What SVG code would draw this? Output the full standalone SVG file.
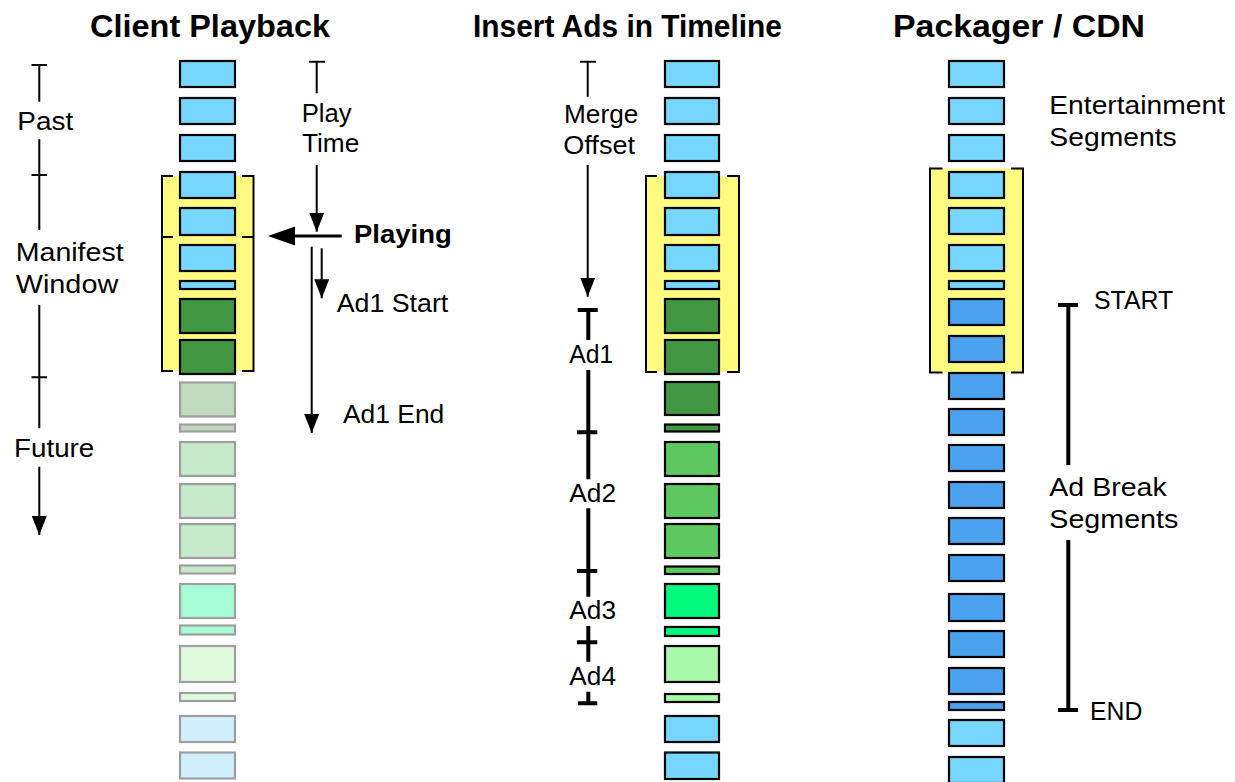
<svg xmlns="http://www.w3.org/2000/svg" width="1235" height="782" viewBox="0 0 1235 782">
  <style>
    .lbl { font-family: "Liberation Sans", Arial, sans-serif; font-size: 26px; fill: #000; }
    .ttl { font-family: "Liberation Sans", Arial, sans-serif; font-size: 32px; font-weight: bold; fill: #000; }
    .bold { font-weight: bold; }
    .seg { stroke: #000; stroke-width: 2.2; }
    .fut { stroke: #9e9e9e; stroke-width: 2.2; }
    .lb { fill: #76d6ff; }
    .dg { fill: #419741; }
    .mg { fill: #5cc95f; }
    .bg { fill: #00f97d; }
    .pg { fill: #a7f9a7; }
    .db { fill: #4aa2ef; }
    .fdg { fill: #bfdabe; }
    .fmg { fill: #c6eac9; }
    .fbg { fill: #a6fcd3; }
    .fpg { fill: #dffadf; }
    .flb { fill: #d0f0fd; }
    .win { fill: #fffb80; stroke: none; }
    .brk { fill: none; stroke: #000; stroke-width: 2; }
    .thin { fill: none; stroke: #000; stroke-width: 2; }
    .thick { fill: none; stroke: #000; stroke-width: 4; }
  </style>
  <defs>
    <marker id="ah" markerUnits="userSpaceOnUse" markerWidth="20" markerHeight="16" refX="19" refY="7.5" orient="auto">
      <path d="M0,0 L19,7.5 L0,15 z" fill="#000"/>
    </marker>
  </defs>

  <!-- Titles -->
  <g id="titles">
    <text class="ttl" x="90" y="36.7" textLength="240" lengthAdjust="spacingAndGlyphs">Client Playback</text>
    <text class="ttl" x="473" y="36.7" textLength="309" lengthAdjust="spacingAndGlyphs">Insert Ads in Timeline</text>
    <text class="ttl" x="893" y="36.7" textLength="252" lengthAdjust="spacingAndGlyphs">Packager / CDN</text>
  </g>

  <!-- Client Playback column -->
  <g id="client-column">
    <rect class="win" x="162" y="176" width="91.5" height="195"/>
    <path class="brk" d="M173,176 H162 V371 H173 M242,176 H253.5 V371 H242 M162,237 H173 M242,237 H253.5"/>
    <rect class="seg lb" x="180" y="61" width="55" height="26"/>
    <rect class="seg lb" x="180" y="98" width="55" height="26"/>
    <rect class="seg lb" x="180" y="135" width="55" height="26"/>
    <rect class="seg lb" x="180" y="172" width="55" height="26"/>
    <rect class="seg lb" x="180" y="208" width="55" height="27"/>
    <rect class="seg lb" x="180" y="245" width="55" height="26"/>
    <rect class="seg lb" x="180" y="281" width="55" height="8"/>
    <rect class="seg dg" x="180" y="299" width="55" height="34"/>
    <rect class="seg dg" x="180" y="340" width="55" height="34"/>
    <rect class="fut fdg" x="180" y="382.5" width="55" height="34"/>
    <rect class="fut fdg" x="180" y="424.5" width="55" height="7"/>
    <rect class="fut fmg" x="180" y="442" width="55" height="34"/>
    <rect class="fut fmg" x="180" y="484" width="55" height="34"/>
    <rect class="fut fmg" x="180" y="524" width="55" height="34"/>
    <rect class="fut fmg" x="180" y="565.5" width="55" height="8"/>
    <rect class="fut fbg" x="180" y="584" width="55" height="34"/>
    <rect class="fut fbg" x="180" y="625.5" width="55" height="9"/>
    <rect class="fut fpg" x="180" y="646" width="55" height="36"/>
    <rect class="fut fpg" x="180" y="693" width="55" height="8"/>
    <rect class="fut flb" x="180" y="716" width="55" height="26"/>
    <rect class="fut flb" x="180" y="752.5" width="55" height="26"/>
  </g>

  <!-- Insert Ads column -->
  <g id="timeline-column">
    <rect class="win" x="646" y="176" width="93" height="196"/>
    <path class="brk" d="M657,176 H646 V372 H657 M727,176 H739 V372 H727"/>
    <rect class="seg lb" x="665" y="61" width="54" height="26"/>
    <rect class="seg lb" x="665" y="98" width="54" height="26"/>
    <rect class="seg lb" x="665" y="135" width="54" height="26"/>
    <rect class="seg lb" x="665" y="172" width="54" height="26"/>
    <rect class="seg lb" x="665" y="208" width="54" height="27"/>
    <rect class="seg lb" x="665" y="245" width="54" height="26"/>
    <rect class="seg lb" x="665" y="281" width="54" height="8"/>
    <rect class="seg dg" x="665" y="299" width="54" height="34"/>
    <rect class="seg dg" x="665" y="340" width="54" height="34"/>
    <rect class="seg dg" x="665" y="382" width="54" height="33"/>
    <rect class="seg dg" x="665" y="424.5" width="54" height="7"/>
    <rect class="seg mg" x="665" y="442" width="54" height="34"/>
    <rect class="seg mg" x="665" y="484" width="54" height="34"/>
    <rect class="seg mg" x="665" y="524" width="54" height="34"/>
    <rect class="seg mg" x="665" y="566.5" width="54" height="7.5"/>
    <rect class="seg bg" x="665" y="584" width="54" height="34"/>
    <rect class="seg bg" x="665" y="627" width="54" height="9"/>
    <rect class="seg pg" x="665" y="646" width="54" height="36"/>
    <rect class="seg pg" x="665" y="694" width="54" height="8"/>
    <rect class="seg lb" x="665" y="716" width="54" height="26"/>
    <rect class="seg lb" x="665" y="752.5" width="54" height="26.5"/>
  </g>

  <!-- Packager / CDN column -->
  <g id="packager-column">
    <rect class="win" x="930" y="168.5" width="93" height="204"/>
    <path class="brk" d="M942.5,168.5 H930 V372.5 H942.5 M1011,168.5 H1023 V372.5 H1011"/>
    <rect class="seg lb" x="949" y="61" width="55" height="26"/>
    <rect class="seg lb" x="949" y="98" width="55" height="26"/>
    <rect class="seg lb" x="949" y="135" width="55" height="26"/>
    <rect class="seg lb" x="949" y="172" width="55" height="26"/>
    <rect class="seg lb" x="949" y="208" width="55" height="26"/>
    <rect class="seg lb" x="949" y="245" width="55" height="26"/>
    <rect class="seg lb" x="949" y="281" width="55" height="8"/>
    <rect class="seg db" x="949" y="299" width="55" height="26"/>
    <rect class="seg db" x="949" y="336" width="55" height="26"/>
    <rect class="seg db" x="949" y="373" width="55" height="26"/>
    <rect class="seg db" x="949" y="409" width="55" height="26"/>
    <rect class="seg db" x="949" y="445" width="55" height="26"/>
    <rect class="seg db" x="949" y="482" width="55" height="26"/>
    <rect class="seg db" x="949" y="518" width="55" height="26"/>
    <rect class="seg db" x="949" y="555" width="55" height="26"/>
    <rect class="seg db" x="949" y="594" width="55" height="27"/>
    <rect class="seg db" x="949" y="631" width="55" height="26"/>
    <rect class="seg db" x="949" y="668" width="55" height="26"/>
    <rect class="seg db" x="949" y="702" width="55" height="8"/>
    <rect class="seg lb" x="949" y="720" width="55" height="26"/>
    <rect class="seg lb" x="949" y="757" width="55" height="26"/>
  </g>

  <!-- Connectors / axes -->
  <g id="connectors">
    <!-- Past / Manifest / Future axis -->
    <path class="thin" d="M31.5,65 H47 M39.3,65 V101.7 M39.3,139.3 V230 M31.5,175 H47 M39.3,305 V428.3 M31.5,377.3 H47"/>
    <line class="thin" x1="39.3" y1="466.7" x2="39.3" y2="535" marker-end="url(#ah)"/>
    <!-- Play time -->
    <path class="thin" d="M309,61.7 H325 M316.7,61.7 V93.3"/>
    <line class="thin" x1="316.7" y1="165" x2="316.7" y2="231.7" marker-end="url(#ah)"/>
    <!-- Playing arrow -->
    <line x1="341.7" y1="236" x2="292" y2="236" stroke="#000" stroke-width="3"/>
    <path d="M268,236 L295,226.5 L295,245.5 z" fill="#000"/>
    <!-- Ad1 start / end -->
    <line class="thin" x1="321.7" y1="248.3" x2="321.7" y2="298.3" marker-end="url(#ah)"/>
    <line class="thin" x1="311.7" y1="246.7" x2="311.7" y2="433" marker-end="url(#ah)"/>
    <!-- Merge offset -->
    <path class="thin" d="M580,61.7 H596 M587.7,61.7 V96.7"/>
    <line class="thin" x1="587.7" y1="165" x2="587.7" y2="296.7" marker-end="url(#ah)"/>
    <!-- Ad bar -->
    <path class="thick" d="M577.7,310 H597.7 M588.3,310 V340 M588.3,370 V479.3 M577,432.3 H597.3 M588.3,508.3 V596.7 M577,571 H597.3 M588.3,626 V661.7 M577,642.3 H597.3 M588.3,691.7 V703.3 M578,703.3 H597.3"/>
    <!-- Ad break START / END -->
    <path class="thick" d="M1058,305 H1078 M1068.3,305 V465 M1068.3,540 V710 M1058,710 H1078"/>
  </g>

  <!-- Labels -->
  <g id="labels">
    <text class="lbl" x="17.3" y="130" textLength="56" lengthAdjust="spacingAndGlyphs">Past</text>
    <text class="lbl" x="15.7" y="260.7" textLength="108" lengthAdjust="spacingAndGlyphs">Manifest</text>
    <text class="lbl" x="15.7" y="293.3" textLength="102.6" lengthAdjust="spacingAndGlyphs">Window</text>
    <text class="lbl" x="14" y="457" textLength="80.3" lengthAdjust="spacingAndGlyphs">Future</text>
    <text class="lbl" x="301.7" y="121.7" textLength="50" lengthAdjust="spacingAndGlyphs">Play</text>
    <text class="lbl" x="302" y="151.7" textLength="57.3" lengthAdjust="spacingAndGlyphs">Time</text>
    <text class="lbl bold" x="354" y="243.3" textLength="97.7" lengthAdjust="spacingAndGlyphs">Playing</text>
    <text class="lbl" x="336.7" y="311.7" textLength="111.6" lengthAdjust="spacingAndGlyphs">Ad1 Start</text>
    <text class="lbl" x="343" y="423.3" textLength="101.3" lengthAdjust="spacingAndGlyphs">Ad1 End</text>
    <text class="lbl" x="564" y="123.3" textLength="74.3" lengthAdjust="spacingAndGlyphs">Merge</text>
    <text class="lbl" x="563.3" y="154.3" textLength="71.7" lengthAdjust="spacingAndGlyphs">Offset</text>
    <text class="lbl" x="569.3" y="363.3" textLength="44" lengthAdjust="spacingAndGlyphs">Ad1</text>
    <text class="lbl" x="569.3" y="501.7" textLength="46.7" lengthAdjust="spacingAndGlyphs">Ad2</text>
    <text class="lbl" x="569.3" y="619" textLength="46.7" lengthAdjust="spacingAndGlyphs">Ad3</text>
    <text class="lbl" x="569.3" y="685" textLength="46.7" lengthAdjust="spacingAndGlyphs">Ad4</text>
    <text class="lbl" x="1049.3" y="114" textLength="175.7" lengthAdjust="spacingAndGlyphs">Entertainment</text>
    <text class="lbl" x="1049.3" y="146" textLength="127.4" lengthAdjust="spacingAndGlyphs">Segments</text>
    <text class="lbl" x="1094" y="309.3" textLength="79.3" lengthAdjust="spacingAndGlyphs">START</text>
    <text class="lbl" x="1049.3" y="495.7" textLength="117.4" lengthAdjust="spacingAndGlyphs">Ad Break</text>
    <text class="lbl" x="1049.3" y="528.3" textLength="129" lengthAdjust="spacingAndGlyphs">Segments</text>
    <text class="lbl" x="1090" y="720" textLength="52.3" lengthAdjust="spacingAndGlyphs">END</text>
  </g>
</svg>
